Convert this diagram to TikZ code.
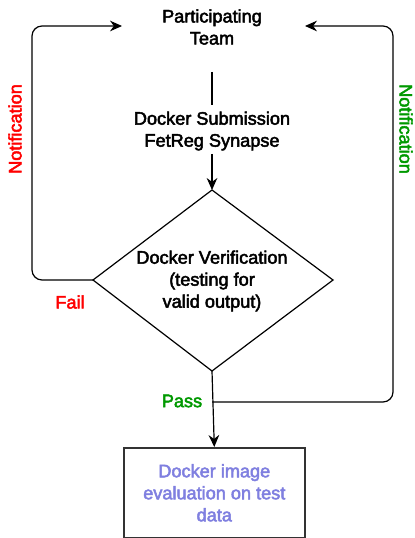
\documentclass[tikz,border=0pt]{standalone}
\usepackage{fontspec}
\setmainfont{Liberation Sans}[FakeBold=2.6]
\usetikzlibrary{arrows.meta,shapes.geometric}
\definecolor{failred}{HTML}{FF0000}
\definecolor{passgreen}{HTML}{009900}
\definecolor{evalblue}{HTML}{7F7FE0}
\definecolor{boxgray}{HTML}{333333}
\begin{document}
\begin{tikzpicture}[x=0.75pt,y=-0.75pt,
  txt/.style={align=center,font=\fontsize{13.6}{16.5}\selectfont,inner sep=0pt},
  conn/.style={draw=black,line width=0.9pt,rounded corners=7.5pt},
  arr/.style={conn,-{Stealth[length=9pt,width=8pt]}},
  ]
\useasboundingbox (0,0) rectangle (414,538);
\fill[white] (0,0) rectangle (414,538);
% nodes
\node[txt] (team) at (212,27) {Participating\\Team};
\node[txt] (sub) at (212,131) {Docker Submission\\FetReg Synapse};
\coordinate (teamb) at (212,72);
\coordinate (dtop) at (212,190);
\coordinate (dleft) at (93,280);
\coordinate (dright) at (333,280);
\coordinate (dbot) at (212,371);
\draw[line width=0.9pt] (dtop) -- (dright) -- (dbot) -- (dleft) -- cycle;
\node[txt] (ver) at (212,281) {Docker Verification\\(testing for\\valid output)};
\node[draw=boxgray,line width=1.2pt,minimum width=181pt*0.75,minimum height=90pt*0.75,anchor=north west,inner sep=0pt] (eval) at (123,447) {};
\node[txt,text=evalblue] (evaltxt) at (eval.center) {Docker image\\evaluation on test\\data};
\coordinate (lt) at (122,26);
\coordinate (rt) at (305,26);
\coordinate (pass) at (212,402);
% connectors
\draw[conn] (teamb) -- (sub.north |- 0,105);
\draw[arr] (sub.south |- 0,154) -- (dtop);
\draw[arr] (dleft) -- (32,280) -- (32,26) -- (lt);
\draw[arr] (dbot) -- (eval.north);
\draw[arr] (pass) -- (393,402) -- (393,26) -- (rt);
% labels
\node[txt,text=failred] (fail) at (70,302) {Fail};
\node[txt,text=passgreen] (passl) at (182,401) {Pass};
\node[txt,text=failred,rotate=90] (nl) at (15,129) {Notification};
\node[txt,text=passgreen,rotate=-90] (nr) at (406,129) {Notification};
\end{tikzpicture}
\end{document}
